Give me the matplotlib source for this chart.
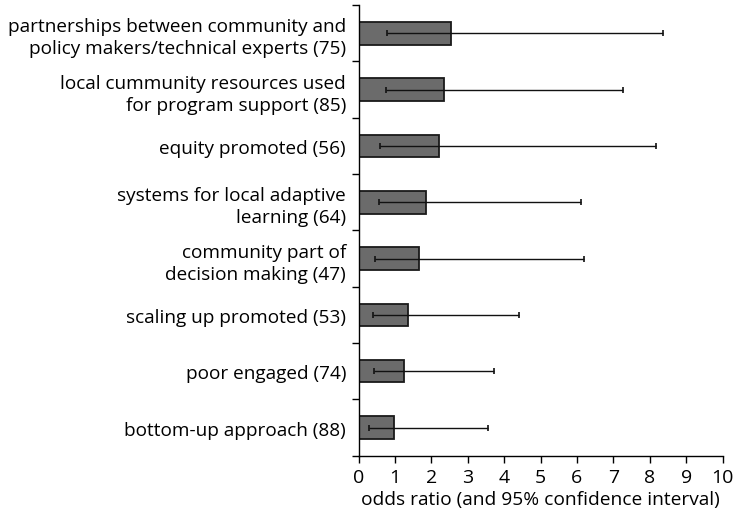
import numpy as np
import matplotlib.pyplot as plt

plt.rcParams['font.family'] = ['Open Sans', 'DejaVu Sans']

labels = [
    'partnerships between community and\npolicy makers/technical experts (75)',
    'local cummunity resources used\nfor program support (85)',
    'equity promoted (56)',
    'systems for local adaptive\nlearning (64)',
    'community part of\ndecision making (47)',
    'scaling up promoted (53)',
    'poor engaged (74)',
    'bottom-up approach (88)',
]
odds = [2.53, 2.34, 2.22, 1.85, 1.67, 1.35, 1.26, 0.97]
ci_low = [0.77, 0.75, 0.59, 0.57, 0.46, 0.40, 0.43, 0.30]
ci_high = [8.35, 7.27, 8.17, 6.11, 6.19, 4.42, 3.72, 3.55]

fig = plt.figure(figsize=(7.37, 5.10), dpi=100)
ax = fig.add_axes([0.4865, 0.1045, 0.494, 0.8835])

n = len(labels)
y = np.arange(n)[::-1]
odds = np.array(odds)
err = [odds - np.array(ci_low), np.array(ci_high) - odds]

ax.barh(y, odds, height=0.4, color='#6b6b6b', edgecolor='#1a1a1a', linewidth=1.3)
ax.errorbar(odds, y, xerr=err, fmt='none', ecolor='#111111', elinewidth=1,
            capsize=2.5, capthick=1.2)

ax.set_xlim(0, 10)
ax.set_ylim(-0.5, n - 0.5)
ax.set_xticks(range(0, 11))
ax.tick_params(axis='x', labelsize=14, length=5, width=1, direction='out', pad=4)

# category labels centred on bars, ticks at category boundaries
ax.set_yticks(np.arange(-0.5, n, 1.0))
ax.set_yticklabels([])
ax.set_yticks(y, labels, minor=True)
ax.tick_params(axis='y', which='major', length=5, width=1, direction='out')
ax.tick_params(axis='y', which='minor', length=0, pad=9, labelsize=13.7)
for t in ax.get_yticklabels(minor=True):
    t.set_horizontalalignment('right')
    t.set_multialignment('right')
    t.set_linespacing(1.3)

ax.spines['top'].set_visible(False)
ax.spines['right'].set_visible(False)
ax.spines['left'].set_linewidth(1)
ax.spines['bottom'].set_linewidth(1)

ax.set_xlabel('odds ratio (and 95% confidence interval)', fontsize=13.8, labelpad=3)

fig.savefig('out.png', dpi=100)
